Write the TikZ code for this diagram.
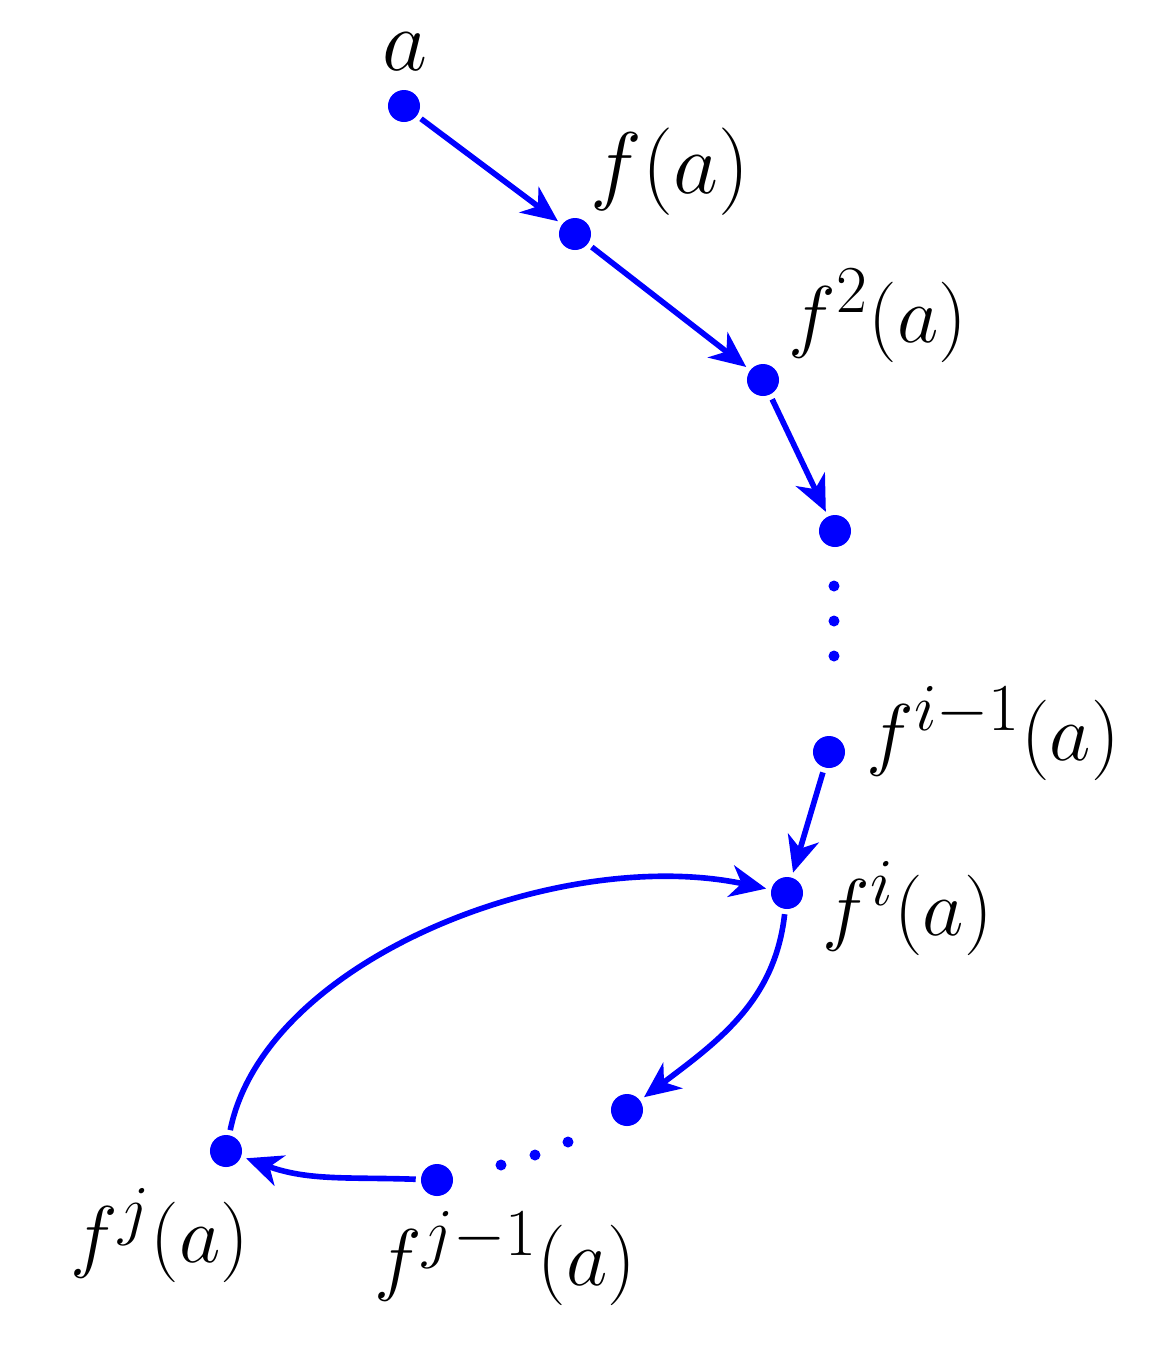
\documentclass[tikz,border=0pt]{standalone}
\usetikzlibrary{arrows.meta}
\newcommand\sm[1]{\scalebox{0.92}{#1}}
\begin{document}
\begin{tikzpicture}[x=0.01cm,y=-0.01cm,
  pt/.style={circle,fill=blue,draw=none,minimum size=0.32cm,inner sep=0pt,outer sep=1.5pt},
  sdot/.style={circle,fill=blue,draw=none,minimum size=0.11cm,inner sep=0pt},
  arr/.style={draw=blue,line width=1.6pt,-{Stealth[length=0.36cm,width=0.32cm,inset=0.11cm]}},
  lab/.style={font=\fontsize{24.88}{28}\selectfont,inner sep=0pt,anchor=base west}]
\useasboundingbox (0,0) rectangle (1167,1347);
\node[pt] (p0) at (404,106) {};
\node[pt] (p1) at (575,234) {};
\node[pt] (p2) at (763,380) {};
\node[pt] (p3) at (835,531) {};
\node[sdot] (v1) at (834,586) {};
\node[sdot] (v2) at (834,621) {};
\node[sdot] (v3) at (834,656) {};
\node[pt] (pi1) at (829,752) {};
\node[pt] (pi) at (787,893) {};
\node[pt] (pk) at (627,1110) {};
\node[sdot] (h1) at (501,1165) {};
\node[sdot] (h2) at (535,1155) {};
\node[sdot] (h3) at (568,1142) {};
\node[pt] (pj1) at (437,1180) {};
\node[pt] (pj) at (226,1151) {};

\node[lab,anchor=base] (la) at (405,70) {$a$};
\node[lab] (lf1) at (590,193) {$f(a)$};
\node[lab] (lf2) at (788,342) {\sm{$f^{2}(a)$}};
\node[lab] (lfi1) at (866,760) {\sm{$f^{i-1}(a)$}};
\node[lab] (lfi) at (822,935) {\sm{$f^{i}(a)$}};
\node[lab] (lfj) at (70,1262) {\sm{$f^{j}(a)$}};
\node[lab] (lfj1) at (374,1285) {\sm{$f^{j-1}(a)$}};

\draw[arr] (p0) -- (p1);
\draw[arr] (p1) -- (p2);
\draw[arr] (p2) -- (p3);
\draw[arr] (pi1) -- (pi);
\draw[arr] (pi) .. controls (775,1000) and (720,1040) .. (pk);
\draw[arr] (pj1) to[out=178,in=-20] (pj);
\draw[arr] (pj) .. controls (265,959) and (560,845) .. (pi);
\end{tikzpicture}
\end{document}
